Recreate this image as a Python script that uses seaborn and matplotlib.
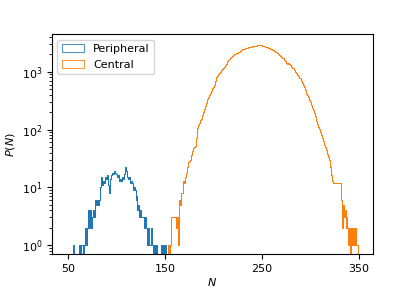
import matplotlib
matplotlib.use('Agg')
import matplotlib.pyplot as plt
from matplotlib.patches import Patch
import seaborn as sns
import numpy as np
import pandas as pd

plt.rcParams.update({
    'font.family': 'DejaVu Sans',
    'font.size': 8,
    'mathtext.fontset': 'dejavusans',
})

# Peripheral: counts per integer N, first entry is N = 54
peri_start = 54
peri_counts = [0,
               1, 0, 0, 0, 0, 0, 0, 1, 0, 1,         # 55-64
               1, 0, 1, 2, 1, 2, 4, 2, 4, 2,         # 65-74
               3, 4, 3, 6, 5, 6, 5, 6, 10, 15,       # 75-84
               11, 13, 12, 15, 14, 16, 13, 11, 8, 14,  # 85-94
               16, 18, 17, 19, 18, 17, 15, 16, 13, 14,  # 95-104
               13, 15, 14, 17, 22, 19, 15, 14, 15, 12,  # 105-114
               13, 12, 9, 10, 9, 6, 7, 4, 5, 3,      # 115-124
               4, 3, 3, 3, 2, 3, 2, 1, 2, 1,         # 125-134
               1, 2, 1, 0, 1, 0, 1, 0, 0, 0,         # 135-144
               0, 1, 0, 1, 0, 1,                     # 145-150
               0]

# Central: counts per integer N, first entry is N = 153
cent_start = 153
cent_counts = [0,
               1, 0, 1, 3, 3, 3, 3, 3, 2, 3,                        # 154-163
               1, 6, 5, 8, 8, 13, 12, 15, 18, 22,                   # 164-173
               27, 29, 30, 36, 42, 47, 50, 52, 70, 100,             # 174-183
               105, 118, 130, 145, 155, 180, 200, 230, 260, 290,    # 184-193
               340, 370, 400, 430, 470, 520, 545, 600, 690, 810,    # 194-203
               850, 900, 960, 1010, 1060, 1100, 1140, 1210, 1290, 1360,  # 204-213
               1430, 1520, 1600, 1650, 1760, 1830, 1890, 1950, 2000, 2050,  # 214-223
               2100, 2140, 2180, 2220, 2300, 2380, 2450, 2500, 2520, 2560,  # 224-233
               2580, 2620, 2640, 2680, 2700, 2720, 2750, 2770, 2790, 2810,  # 234-243
               2820, 2840, 2860, 2870, 2880, 2870, 2860, 2830, 2800, 2760,  # 244-253
               2720, 2680, 2640, 2600, 2560, 2520, 2460, 2410, 2370, 2300,  # 254-263
               2230, 2160, 2090, 2020, 1950, 1880, 1810, 1750, 1700, 1620,  # 264-273
               1550, 1500, 1440, 1390, 1400, 1390, 1300, 1230, 1160, 1140,  # 274-283
               1080, 1000, 940, 880, 830, 790, 765, 700, 640, 590,  # 284-293
               540, 480, 420, 400, 360, 330, 300, 270, 240, 217,    # 294-303
               190, 170, 155, 140, 125, 112, 104, 90, 80, 70,       # 304-313
               64, 55, 49, 44, 38, 33, 30, 22, 16, 13,              # 314-323
               12, 12, 12, 12, 12, 12, 12, 12, 6, 2,                # 324-333
               5, 3, 4, 2, 3, 2, 1, 2, 0, 2,                        # 334-343
               1, 2, 1, 2, 1, 1,                                    # 344-349
               0]

peri_N = np.arange(peri_start, peri_start + len(peri_counts))
cent_N = np.arange(cent_start, cent_start + len(cent_counts))

colors = ['#1f77b4', '#ff7f0e']
labels = ['Peripheral', 'Central']

fig, ax = plt.subplots(figsize=(4.15, 2.91), dpi=100)
fig.subplots_adjust(left=0.125, right=0.899, bottom=0.126, top=0.883)

for N, counts, color in zip([peri_N, cent_N], [peri_counts, cent_counts], colors):
    df = pd.DataFrame({'N': N, 'count': counts})
    sns.histplot(data=df, x='N', weights='count', discrete=True,
                 element='step', fill=False, color=color,
                 linewidth=0.75, ax=ax)

ax.set_yscale('log')
ax.set_ylim(0.69, 4500)
ax.set_xlim(33, 365)
ax.set_xticks([50, 150, 250, 350])
ax.set_xlabel('$N$', labelpad=1.5)
ax.set_ylabel('$P(N)$', labelpad=3)

handles = [Patch(facecolor='none', edgecolor=c, linewidth=0.75, alpha=0.8)
           for c in colors]
ax.legend(handles, labels, loc='upper left', fontsize=8)

plt.savefig('out.png', dpi=100)
